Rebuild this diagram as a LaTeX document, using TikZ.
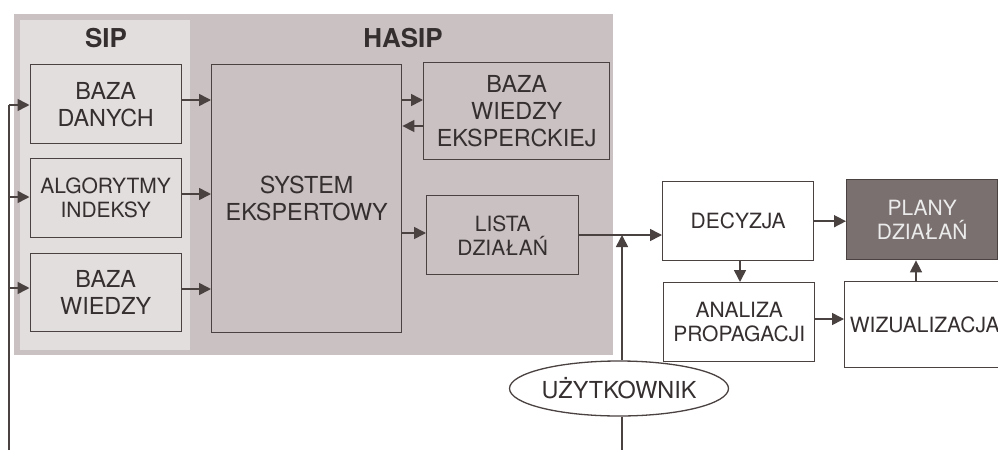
\documentclass[tikz,border=0pt]{standalone}
\usepackage{fontspec}
\setmainfont{TeX Gyre Heros}
\usetikzlibrary{arrows.meta,shapes.geometric}
\definecolor{hasipbg}{HTML}{CAC2C2}
\definecolor{sipbg}{HTML}{E3DEDE}
\definecolor{linec}{HTML}{4A4141}
\definecolor{textc}{HTML}{352F30}
\definecolor{planc}{HTML}{7A706F}
\tikzset{
  big/.style={font=\fontsize{23.4}{27}\selectfont},
  small/.style={font=\fontsize{21}{24}\selectfont},
  box/.style={draw=linec, line width=1.4pt, anchor=north west, align=center, text=textc, inner sep=0pt},
  arr/.style={draw=linec, line width=1.6pt, -{Triangle[length=12pt,width=12pt]}},
  ln/.style={draw=linec, line width=1.6pt},
  title/.style={font=\fontsize{26}{30}\selectfont\bfseries, text=textc}
}
\begin{document}
\begin{tikzpicture}[x=1pt,y=-1pt]
\useasboundingbox (0,0) rectangle (998,450);
\clip (0,0) rectangle (998,450);
% backgrounds
\fill[hasipbg] (14,14) rectangle (613,355);
\fill[sipbg] (20,20) rectangle (190,350);
\node[title] (sip) at (106,38) {SIP};
\node[title] (hasip) at (403,38) {HASIP};
% SIP boxes
\node[box, big, minimum width=151, minimum height=79] (bd) at (29.5,64) {BAZA\\DANYCH};
\node[box, small, minimum width=151, minimum height=79] (alg) at (29.5,158) {ALGORYTMY\\INDEKSY};
\node[box, big, minimum width=151, minimum height=78] (bw) at (29.5,253) {BAZA\\WIEDZY};
% HASIP boxes
\node[box, big, minimum width=190, minimum height=268] (se) at (211,64) {SYSTEM\\EKSPERTOWY};
\node[box, big, minimum width=186, minimum height=97] (bwe) at (423,62) {BAZA\\WIEDZY\\EKSPERCKIEJ};
\node[box, small, minimum width=152, minimum height=79] (lista) at (426,195) {LISTA\\DZIAŁAŃ};
% right part
\node[box, small, fill=white, minimum width=151, minimum height=79] (dec) at (662,181) {DECYZJA};
\node[box, small, fill=planc, text=white!92!black, minimum width=151, minimum height=80] (plany) at (846,179) {PLANY\\DZIAŁAŃ};
\node[box, small, fill=white, minimum width=151, minimum height=79] (ana) at (663,282) {ANALIZA\\PROPAGACJI};
\node[box, small, fill=white, minimum width=160, minimum height=86] (wiz) at (844,281) {WIZUALIZACJA};
\node[draw=linec, line width=1.3pt, ellipse, fill=white, text=textc, big, minimum width=188, minimum height=55, inner sep=0pt] (user) at (619,388.5) {UŻYTKOWNIK};
% helper coordinates
\coordinate (in0) at (9,450);
\coordinate (r1) at (9,105);
\coordinate (r2) at (9,197);
\coordinate (r3) at (9,288);
\coordinate (s1) at (0,100);
\coordinate (s2) at (0,194);
\coordinate (s3) at (0,289);
\coordinate (e1) at (0,100);
\coordinate (e2) at (0,126);
\coordinate (e3) at (0,233);
\coordinate (j) at (622,235);
\coordinate (ubot) at (622,450);
\coordinate (xd) at (740,0);
\coordinate (xw) at (916,0);
\coordinate (y319) at (0,319);
% left input
\draw[ln] (in0) -- (r1);
\draw[arr] (r1) -- (bd.west |- r1);
\draw[arr] (r2) -- (alg.west |- r2);
\draw[arr] (r3) -- (bw.west |- r3);
% SIP -> SE
\draw[arr] (bd.east |- s1) -- (se.west |- s1);
\draw[arr] (alg.east |- s2) -- (se.west |- s2);
\draw[arr] (bw.east |- s3) -- (se.west |- s3);
% SE <-> BWE
\draw[arr] (se.east |- e1) -- (bwe.west |- e1);
\draw[arr] (bwe.west |- e2) -- (se.east |- e2);
\draw[arr] (se.east |- e3) -- (lista.west |- e3);
% LISTA -> DEC
\draw[arr] (lista.east |- j) -- (dec.west |- j);
\draw[arr] (user.north -| j) -- (j);
\draw[ln] (user.south -| j) -- (ubot);
% right arrows
\draw[arr] (dec.east) -- (plany.west |- dec.east);
\draw[arr] (dec.south -| xd) -- (ana.north -| xd);
\draw[arr] (ana.east |- y319) -- (wiz.west |- y319);
\draw[arr] (wiz.north -| xw) -- (plany.south -| xw);
\end{tikzpicture}
\end{document}
